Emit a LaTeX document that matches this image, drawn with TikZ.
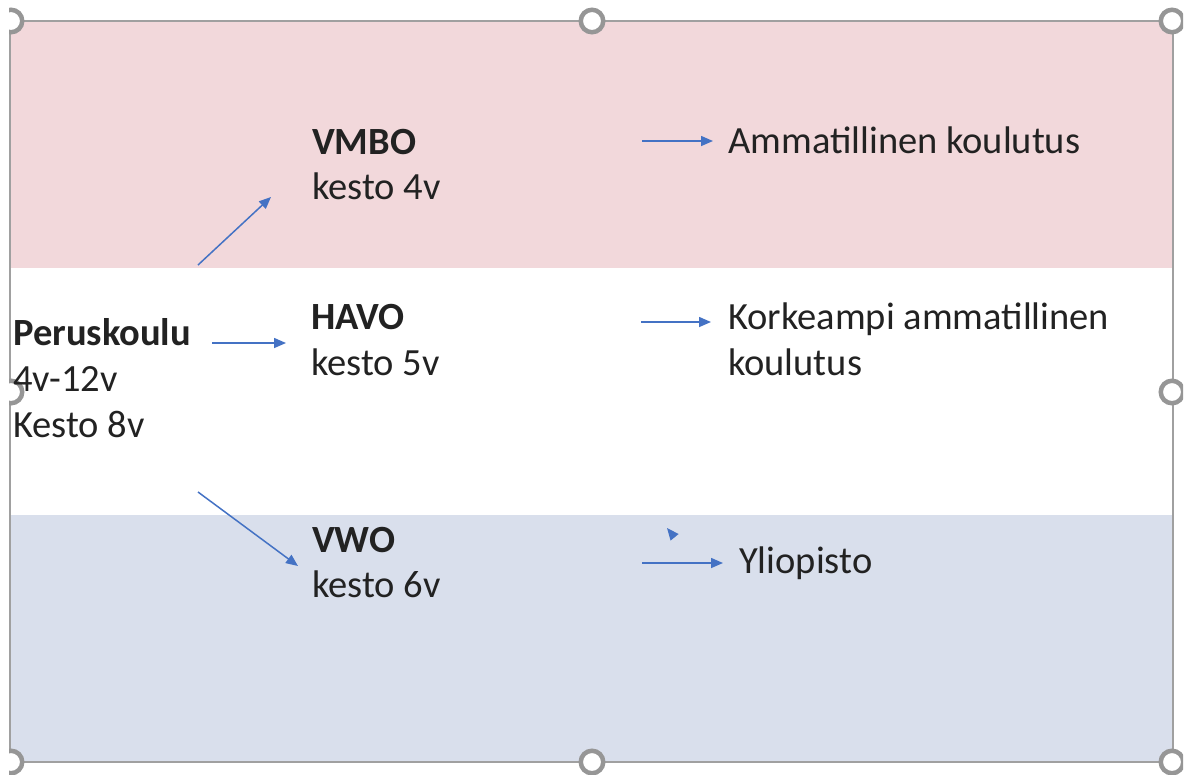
\documentclass[tikz,border=0pt]{standalone}
\usepackage{fontspec}
\setmainfont{Carlito}
\usetikzlibrary{arrows.meta}
\definecolor{pinkband}{RGB}{242,216,219}
\definecolor{blueband}{RGB}{217,223,236}
\definecolor{framegray}{RGB}{160,160,160}
\definecolor{handlegray}{RGB}{150,150,150}
\definecolor{arrowblue}{RGB}{68,114,196}
\definecolor{textgray}{RGB}{34,34,34}
\begin{document}
\begin{tikzpicture}[x=1pt,y=-1pt,
  lbl/.style={anchor=base west, inner sep=0pt, font=\fontsize{38.5}{46}\selectfont, text=textgray},
  bold/.style={lbl, font=\fontsize{38.5}{46}\selectfont\bfseries},
  arr/.style={draw=arrowblue, line width=1.5pt, -{Triangle[length=12pt,width=10pt]}},
  handle/.style={circle, draw=handlegray, line width=4.5pt, fill=white, minimum size=22.5pt, inner sep=0pt}]
\useasboundingbox (0,0) rectangle (1193,774);
\fill[pinkband] (10,21) rectangle (1173,268);
\fill[blueband] (10,515) rectangle (1173,762);
\draw[framegray, line width=2.2pt] (10,21) rectangle (1173,762);
% handles
\begin{scope}
\clip (9,0) rectangle (1183,774);
\node[handle] (h1) at (11,21) {};
\node[handle] (h2) at (592,21) {};
\node[handle] (h3) at (1172,21) {};
\node[handle] (h4) at (11,392) {};
\node[handle] (h5) at (1172,392) {};
\node[handle] (h6) at (11,762) {};
\node[handle] (h7) at (592,762) {};
\node[handle] (h8) at (1172,762) {};
\end{scope}
% texts
\node[bold] (vmbo) at (312,154) {VMBO};
\node[lbl] (vmbo2) at (312,199) {kesto 4v};
\node[lbl] (amm) at (728,153) {Ammatillinen koulutus};
\node[bold] (havo) at (311,329) {HAVO};
\node[lbl] (havo2) at (311,375) {kesto 5v};
\node[lbl] (kork) at (728,329) {Korkeampi ammatillinen};
\node[lbl] (kork2) at (728,375) {koulutus};
\node[bold] (perus) at (13,345) {Peruskoulu};
\node[lbl] (perus2) at (13,391) {4v-12v};
\node[lbl] (perus3) at (13,437) {Kesto 8v};
\node[bold] (vwo) at (312,552) {VWO};
\node[lbl] (vwo2) at (312,597) {kesto 6v};
\node[lbl] (yli) at (739,573) {Yliopisto};
% arrow end points
\coordinate (a1s) at (212,343); \coordinate (a1e) at (286,343);
\coordinate (a2s) at (198,265); \coordinate (a2e) at (271,197);
\coordinate (a3s) at (198,492); \coordinate (a3e) at (298,566);
\coordinate (a4s) at (642,141); \coordinate (a4e) at (713,141);
\coordinate (a5s) at (641,322); \coordinate (a5e) at (711,322);
\coordinate (a6s) at (642,563); \coordinate (a6e) at (723,563);
\coordinate (a7s) at (676,539); \coordinate (a7e) at (667,528);
\draw[arr] (a1s) -- (a1e);
\draw[arr] (a2s) -- (a2e);
\draw[arr] (a3s) -- (a3e);
\draw[arr] (a4s) -- (a4e);
\draw[arr] (a5s) -- (a5e);
\draw[arr] (a6s) -- (a6e);
\draw[arr, shorten <=10pt] (a7s) -- (a7e);
\end{tikzpicture}
\end{document}
